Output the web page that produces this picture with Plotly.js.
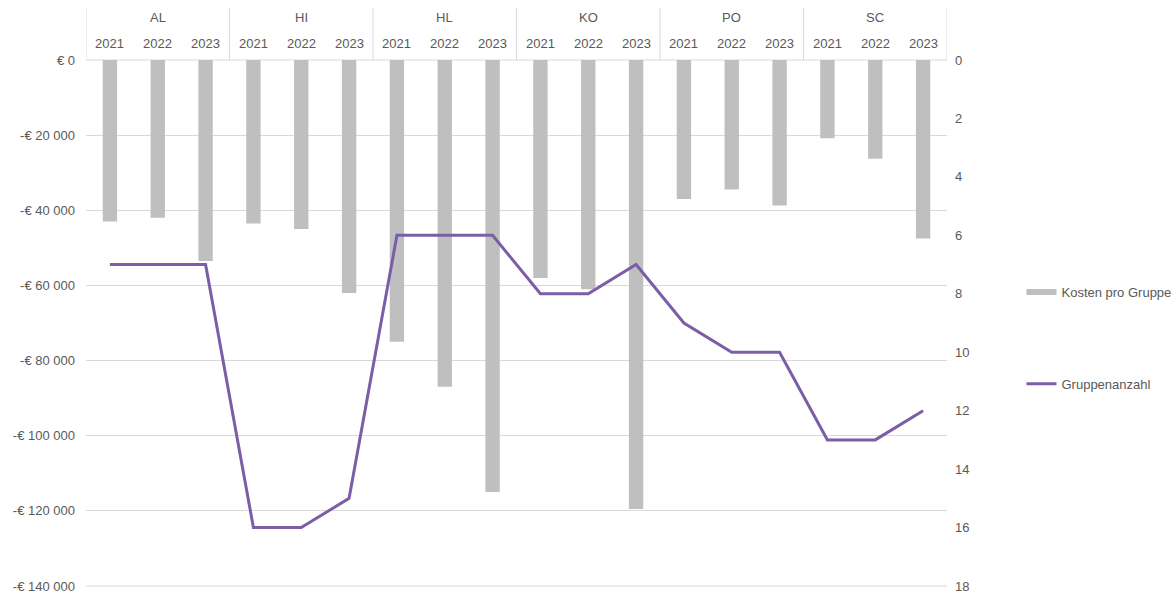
<!DOCTYPE html>
<html>
<head>
<meta charset="utf-8">
<script src="https://cdn.plot.ly/plotly-3.0.1.min.js"></script>
<style>html,body{margin:0;padding:0;background:#fff;}#chart{width:1176px;height:594px;}</style>
</head>
<body>
<div id="chart"></div>
<script>
const groups = ["AL","AL","AL","HI","HI","HI","HL","HL","HL","KO","KO","KO","PO","PO","PO","SC","SC","SC"];
const years = ["2021","2022","2023","2021","2022","2023","2021","2022","2023","2021","2022","2023","2021","2022","2023","2021","2022","2023"];
const kosten = [-43000,-42000,-53500,-43500,-45000,-62000,-75000,-87000,-115000,-58000,-61000,-119500,-37000,-34500,-38700,-20800,-26300,-47500];
const gruppenanzahl = [7,7,7,16,16,15,6,6,6,8,8,7,9,10,10,13,13,12];
const leftTickVals = [0,-20000,-40000,-60000,-80000,-100000,-120000,-140000];
const leftTickText = ["€ 0","-€ 20 000","-€ 40 000","-€ 60 000","-€ 80 000","-€ 100 000","-€ 120 000","-€ 140 000"];
const rightTickVals = [0,2,4,6,8,10,12,14,16,18];

const cats = groups.map((g,i) => g + " " + years[i]);
const txtColor = "#595959";
const gridColor = "#d9d9d9";

const traces = [
  {type:"bar", x:cats, y:kosten, name:"Kosten pro Gruppe", marker:{color:"#bfbfbf"}, width:0.3, showlegend:false, hoverinfo:"y"},
  {type:"scatter", mode:"lines", x:[null], y:[null], name:"Kosten pro Gruppe", line:{color:"#bfbfbf", width:6}, legendgroup:"a", showlegend:true, hoverinfo:"skip"},
  {type:"scatter", mode:"lines", x:cats, y:gruppenanzahl, yaxis:"y2", name:"Gruppenanzahl", line:{color:"#7b5ea7", width:3}, legendgroup:"b"}
];

// header annotations (years and groups) and dividers
const annotations = [];
const shapes = [];
cats.forEach((c,i) => {
  annotations.push({x:c, xref:"x", y:1.0323, yref:"paper", text:years[i], showarrow:false, xanchor:"center", yanchor:"middle", font:{size:13,color:txtColor}});
});
const uniqueGroups = [...new Set(groups)];
uniqueGroups.forEach(g => {
  const idx = groups.map((v,i)=>v===g?i:-1).filter(i=>i>=0);
  const mid = cats[idx[Math.floor(idx.length/2)]];
  annotations.push({x:mid, xref:"x", y:1.0817, yref:"paper", text:g, showarrow:false, xanchor:"center", yanchor:"middle", font:{size:13,color:txtColor}});
  shapes.push({type:"line", xref:"x", yref:"paper", x0:idx[0]-0.5, x1:idx[0]-0.5, y0:1, y1:1.0989, line:{color:gridColor, width:1}});
});
shapes.push({type:"line", xref:"x", yref:"paper", x0:cats.length-0.5, x1:cats.length-0.5, y0:1, y1:1.0989, line:{color:gridColor, width:1}});
shapes.push({type:"line", xref:"paper", yref:"paper", x0:0, x1:1, y0:1, y1:1, line:{color:gridColor, width:1}, layer:"below"});
shapes.push({type:"line", xref:"paper", yref:"paper", x0:0, x1:1, y0:0, y1:0, line:{color:gridColor, width:1}, layer:"below"});

const layout = {
  width:1176, height:594,
  margin:{l:86, r:229, t:60, b:8, autoexpand:false},
  paper_bgcolor:"#fff", plot_bgcolor:"#fff",
  font:{family:"Liberation Sans, Arial, sans-serif", size:13, color:txtColor},
  showlegend:true,
  legend:{x:1.0865, xanchor:"left", y:0.5875, yanchor:"top", traceorder:"grouped", tracegroupgap:72, font:{size:13,color:txtColor}, bgcolor:"rgba(0,0,0,0)"},
  xaxis:{type:"category", showticklabels:false, showgrid:false, zeroline:false, showline:false, ticks:"", range:[-0.5, cats.length-0.5]},
  yaxis:{range:[-140000,0], tickvals:leftTickVals, ticktext:leftTickText, showgrid:true, gridcolor:gridColor, gridwidth:1, zeroline:false, showline:false, ticks:"", ticklabelstandoff:10, tickfont:{size:13,color:txtColor}},
  yaxis2:{overlaying:"y", side:"right", range:[18,0], tickvals:rightTickVals, showgrid:false, zeroline:false, showline:false, ticks:"", ticklabelstandoff:7, tickfont:{size:13,color:txtColor}},
  annotations:annotations,
  shapes:shapes
};

Plotly.newPlot("chart", traces, layout, {displayModeBar:false, staticPlot:true});
</script>
</body>
</html>
